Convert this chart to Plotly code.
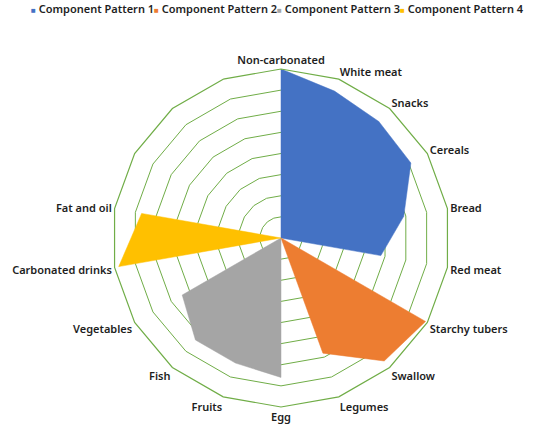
import plotly.graph_objects as go

# 18 spokes, the last three have no label
categories = ["Non-carbonated", "White meat", "Snacks", "Cereals", "Bread", "Red meat",
              "Starchy tubers", "Swallow", "Legumes", "Egg", "Fruits", "Fish",
              "Vegetables", "Carbonated drinks", "Fat and oil", " ", "  ", "   "]

names = ["Component Pattern 1", "Component Pattern 2", "Component Pattern 3", "Component Pattern 4"]
colors = ["#4472C4", "#ED7D31", "#A5A5A5", "#FFC000"]

pattern1 = [0.80, 0.74, 0.72, 0.71, 0.59, 0.48, 0, 0, 0, 0, 0, 0, 0, 0, 0, 0, 0, 0]
pattern2 = [0, 0, 0, 0, 0, 0, 0.79, 0.76, 0.58, 0, 0, 0, 0, 0, 0, 0, 0, 0]
pattern3 = [0, 0, 0, 0, 0, 0, 0, 0, 0, 0.66, 0.63, 0.63, 0.54, 0, 0, 0, 0, 0]
pattern4 = [0, 0, 0, 0, 0, 0, 0, 0, 0, 0, 0, 0, 0, 0.78, 0.67, 0, 0, 0]

patterns = [pattern1, pattern2, pattern3, pattern4]

font_family = "Noto Sans"
text_color = "#1e1e1e"
grid_green = "#70AD47"

fig = go.Figure()

for name, vals, col in zip(names, patterns, colors):
    fig.add_trace(go.Scatterpolar(
        r=vals + [vals[0]],
        theta=categories + [categories[0]],
        mode="lines",
        fill="toself",
        fillcolor=col,
        line=dict(color=col, width=0.5),
        name=name,
        showlegend=False,
    ))

# legend drawn as a row of annotations so it fits the width like the original
legend_x = [29, 152, 275, 398]
for name, col, x in zip(names, colors, legend_x):
    fig.add_annotation(
        x=x / 550, y=1 - 8 / 431, xref="paper", yref="paper",
        xanchor="left", yanchor="middle", showarrow=False,
        text=f'<span style="color:{col};font-size:8px">■</span> {name}',
        font=dict(family=font_family, size=11, color=text_color, weight=600),
    )

fig.update_layout(
    width=550, height=431,
    margin=dict(l=0, r=0, t=0, b=0),
    paper_bgcolor="white",
    plot_bgcolor="white",
    polar=dict(
        domain=dict(x=[112 / 550, 450 / 550], y=[24 / 431, 362 / 431]),
        bgcolor="white",
        gridshape="linear",
        radialaxis=dict(
            range=[0, 0.8], dtick=0.1, showticklabels=False, ticks="",
            showline=False, gridcolor=grid_green, gridwidth=1.2,
        ),
        angularaxis=dict(
            direction="clockwise", rotation=90, showgrid=False,
            showline=True, linecolor=grid_green, linewidth=1.2, ticks="",
            tickfont=dict(family=font_family, size=11, color=text_color, weight=600),
        ),
    ),
)

# the page would otherwise get the browser's default 8px body margin
fig.write_html("out.html", config={"displayModeBar": False},
               post_script="document.body.style.margin='0';")
